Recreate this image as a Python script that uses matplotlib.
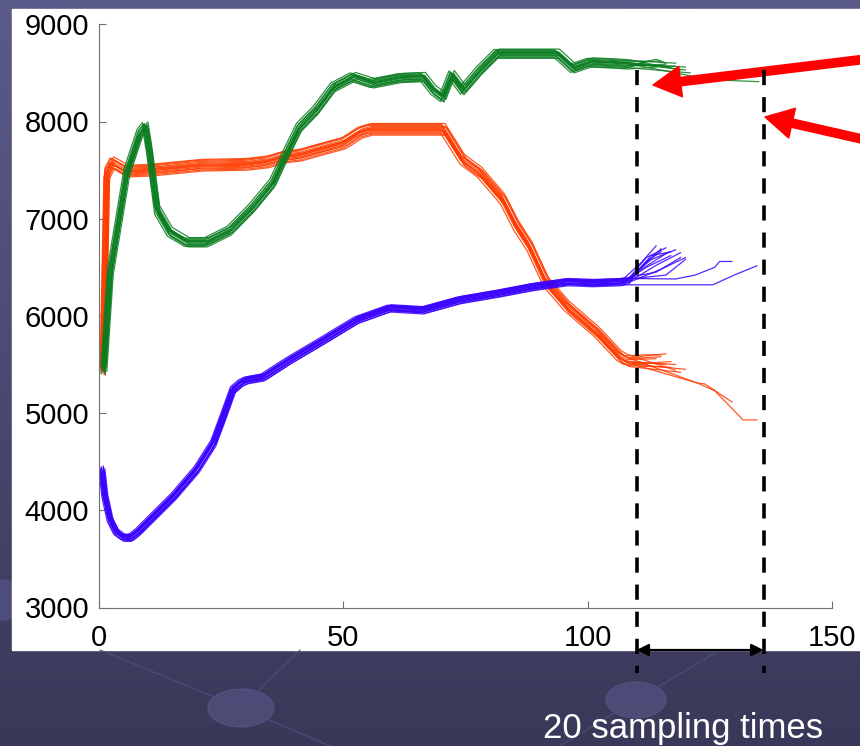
import matplotlib
matplotlib.use('Agg')
import matplotlib.pyplot as plt
import numpy as np
from matplotlib.colors import LinearSegmentedColormap
from matplotlib.patches import Rectangle, Ellipse
from matplotlib.transforms import blended_transform_factory

plt.rcParams['font.family'] = ['Liberation Sans', 'DejaVu Sans']

# central path of each bundle (sampling time, value)
green_t = [1, 2.3, 5.7, 8.4, 9.5, 10.3, 11.9, 14.5, 18, 22, 26.8, 31.5, 35.6, 37.7, 41, 44.5,
           48, 52, 56, 61.6, 66.3, 68.4, 70.4, 72.2, 74.5, 78, 81.4, 88.8, 93.7, 97, 100.5, 105, 108]
green_v = [5450, 6440, 7470, 7880, 7950, 7700, 7090, 6865, 6760, 6760, 6880, 7120, 7370, 7600, 7940, 8120,
           8355, 8460, 8395, 8450, 8460, 8325, 8250, 8480, 8325, 8530, 8700, 8700, 8700, 8550, 8610, 8600, 8590]

red_t = [0.8, 1.6, 2.7, 4, 5.7, 10.4, 20.7, 30, 34.3, 37.7, 41, 44.5, 50, 53.4, 55.5, 62, 70.5,
         72, 74.5, 78, 82.7, 85.5, 88.2, 91.6, 95.8, 101.9, 106.6, 108]
red_v = [5450, 7470, 7575, 7540, 7490, 7500, 7550, 7560, 7585, 7635, 7655, 7705, 7780, 7890, 7920, 7920, 7920,
         7800, 7600, 7470, 7195, 6920, 6710, 6340, 6095, 5830, 5580, 5540]

blue_t = [0.6, 1.2, 2.3, 3.6, 5, 6.5, 8, 10.4, 15.2, 20, 23.4, 25.4, 27.4, 29, 30.2, 33.6, 39,
          45.9, 52.8, 59.5, 66.3, 73.9, 82, 88.8, 95.8, 101, 106.6, 108]
blue_v = [4420, 4150, 3900, 3770, 3720, 3720, 3780, 3900, 4140, 4420, 4690, 4960, 5240, 5310, 5340, 5370, 5545,
          5750, 5960, 6080, 6060, 6165, 6235, 6300, 6350, 6340, 6350, 6360]

# spread of the members around the central path (time shift, value shift)
green_shift = [(-0.5, -45), (-0.3, -25), (0, -10), (0.2, 0), (0.4, 15), (-0.2, 30), (0.5, 45),
               (0.1, -35), (-0.4, 20), (0.3, 5), (0.6, -20), (-0.6, 40), (0.2, -50), (-0.1, 10)]
red_shift = [(-0.4, 50), (0.3, 30), (0, 10), (-0.2, -10), (0.4, -30), (0.2, -50), (-0.5, 0),
             (0.5, -60), (-0.3, 40), (0.1, -20), (0.6, 20), (-0.6, -40), (0.3, 60), (-0.1, -5)]
blue_shift = [(-0.5, 30), (0.3, 20), (0, 10), (-0.2, 0), (0.4, -10), (0.2, -20), (-0.4, 15),
              (0.5, -30), (-0.1, 25), (0.1, -40), (0.6, 5), (-0.6, -15), (0.3, 35), (-0.3, -25)]

# where the members end up after the common part
green_tails = [[(112, 8610)], [(114, 8640), (116, 8600)], [(118, 8570)], [(120, 8560)], [(113, 8580)],
               [(115, 8620)], [(119, 8530)], [(121, 8500)], [(117, 8560)],
               [(122, 8460), (125, 8430), (135, 8410)],
               [(116, 8590)], [(118, 8600)], [(114, 8560)], [(120, 8530)]]
red_tails = [[(112, 5600), (115, 5600)], [(116, 5610)], [(114, 5560)], [(118, 5500)], [(120, 5450)],
             [(117, 5470)], [(113, 5480)], [(119, 5420)],
             [(122.4, 5310), (124, 5300), (129.5, 5115)],
             [(122.4, 5310), (126, 5230), (131.8, 4930), (134.6, 4930)],
             [(115, 5580)], [(117, 5530)], [(118, 5440)], [(116, 5500)]]
blue_tails = [[(111, 6550), (114, 6720)], [(112, 6600), (116, 6700)], [(113, 6580), (118, 6680)],
              [(112, 6500), (117, 6620)], [(114, 6520), (119, 6650)], [(115, 6480), (120, 6600)],
              [(116, 6420), (120, 6580)], [(110, 6450), (115, 6690)],
              [(118, 6380), (122, 6420), (126, 6500), (127, 6560), (129.5, 6560)],
              [(125.6, 6320), (130, 6420), (134.6, 6515)],
              [(113, 6620), (117, 6660)], [(111, 6480), (116, 6640)],
              [(114, 6450), (119, 6600)], [(112, 6560), (115, 6660)]]

window = [110, 136]
xticks = [0, 50, 100, 150]
yticks = [3000, 4000, 5000, 6000, 7000, 8000, 9000]
note = '20 sampling times'

W, H = 860, 746
fig = plt.figure(figsize=(W / 100, H / 100), dpi=100)

# slide background, in pixel coordinates (y from bottom)
bg = fig.add_axes([0, 0, 1, 1], zorder=-10)
cmap = LinearSegmentedColormap.from_list('bg', ['#5b5b89', '#4a4a72', '#393858'])
bg.imshow(np.linspace(0, 1, 256).reshape(-1, 1), aspect='auto', cmap=cmap, extent=[0, W, 0, H])
for cx, cy, w, h in [(241, 38, 66, 38), (636, 46, 60, 36), (0, 146, 50, 40), (40, 744, 60, 30), (660, 744, 70, 30)]:
    bg.add_patch(Ellipse((cx, cy), w, h, color='#58588a', alpha=0.6))
for x0, y0, x1, y1 in [(100, 96, 241, 38), (241, 38, 330, 0), (300, 96, 241, 38), (636, 46, 720, 96), (636, 46, 560, 0)]:
    bg.plot([x0, x1], [y0, y1], color='#4e4e78', lw=0.8)
bg.add_patch(Rectangle((12, H - 650), W, 641, color='white'))
bg.set_xlim(0, W)
bg.set_ylim(0, H)
bg.axis('off')

ax = fig.add_axes([99 / W, (H - 607.5) / H, 733 / W, 583.2 / H])
ax.set_facecolor('none')


def draw(t, v, shifts, tails, color):
    for (dt, dv), tail in zip(shifts, tails):
        xs = [ti + dt for ti in t] + [p[0] for p in tail]
        ys = [vi + dv for vi in v] + [p[1] for p in tail]
        ax.plot(xs, ys, color=color, lw=0.9, alpha=0.85)


draw(red_t, red_v, red_shift, red_tails, '#ff3c00')
draw(blue_t, blue_v, blue_shift, blue_tails, '#3800ff')
draw(green_t, green_v, green_shift, green_tails, '#0b7d21')

ax.set_xlim(0, 150)
ax.set_ylim(3000, 9000)
ax.set_xticks(xticks)
ax.set_yticks(yticks)
for s in ['top', 'right']:
    ax.spines[s].set_visible(False)
for s in ['left', 'bottom']:
    ax.spines[s].set_color('#707070')
ax.tick_params(direction='in', length=5, color='#707070', labelsize=21)
ax.tick_params(axis='x', pad=12)
ax.tick_params(axis='y', pad=7)

# the prediction window
trf = blended_transform_factory(ax.transData, fig.transFigure)
for xw in window:
    ax.plot([xw, xw], [(H - 70) / H, (H - 673) / H], transform=trf, color='black', lw=2.6,
            dashes=(4.2, 3.3), clip_on=False, zorder=5)

ax.annotate('', xy=(window[0], H - 650), xycoords=('data', 'figure pixels'),
            xytext=(window[1], H - 650), textcoords=('data', 'figure pixels'),
            arrowprops=dict(arrowstyle='<|-|>', color='black', lw=1.6, mutation_scale=18,
                            shrinkA=0, shrinkB=0), annotation_clip=False)

red_arrow = dict(arrowstyle='simple,head_length=1.0,head_width=1.1,tail_width=0.3',
                 color='#ff0000', mutation_scale=20, shrinkA=0, shrinkB=0)
ax.annotate('', xy=(653, H - 85), xycoords='figure pixels', xytext=(875, H - 58),
            textcoords='figure pixels', arrowprops=red_arrow, annotation_clip=False)
ax.annotate('', xy=(765, H - 117), xycoords='figure pixels', xytext=(875, H - 142),
            textcoords='figure pixels', arrowprops=red_arrow, annotation_clip=False)

fig.text(543 / W, 8 / H, note, color='white', fontsize=25, ha='left', va='baseline')

fig.savefig('out.png', dpi=100)
